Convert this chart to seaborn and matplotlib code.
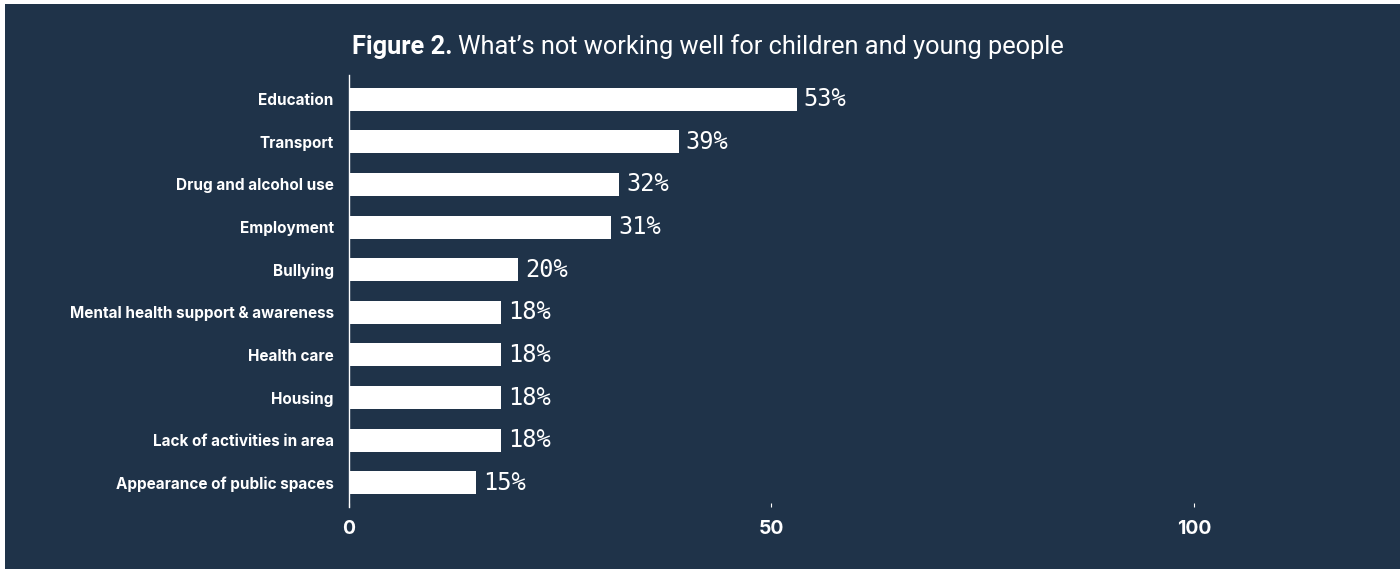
import matplotlib
matplotlib.use("Agg")
import matplotlib.pyplot as plt
import matplotlib.patches as mpatches
import seaborn as sns
import pandas as pd

# data
categories = [
    "Education",
    "Transport",
    "Drug and alcohol use",
    "Employment",
    "Bullying",
    "Mental health support & awareness",
    "Health care",
    "Housing",
    "Lack of activities in area",
    "Appearance of public spaces",
]
percent = [53, 39, 32, 31, 20, 18, 18, 18, 18, 15]
x_ticks = [0, 50, 100]

BG = "#1f3349"
FG = "white"

sns.set_theme(style="white")
plt.rcParams["font.family"] = ["Inter", "DejaVu Sans"]

df = pd.DataFrame({"category": categories, "percent": percent})

W, H = 1400, 569
fig = plt.figure(figsize=(W / 100, H / 100), dpi=100, facecolor="white")
# navy panel, leaving a thin white strip on the top and left edges
fig.patches.append(
    mpatches.Rectangle((5 / W, 0), 1 - 5 / W, 1 - 4 / H, transform=fig.transFigure,
                       facecolor=BG, edgecolor="none", zorder=-10)
)

ax = fig.add_axes([349 / W, (H - 507) / H, (1388 - 349) / W, (507 - 75) / H])
ax.set_facecolor(BG)
ax.set_zorder(2)

sns.barplot(data=df, x="percent", y="category", orient="h", color=FG,
            saturation=1, width=0.54, edgecolor="none", ax=ax)

ax.set_xlim(0, (1388 - 349) / 8.45)
ax.set_ylim(9.57, -0.57)
ax.set_xticks(x_ticks)
ax.set_xlabel("")
ax.set_ylabel("")

for s in ["top", "right", "bottom"]:
    ax.spines[s].set_visible(False)
ax.spines["left"].set_color(FG)
ax.spines["left"].set_linewidth(1)

ax.tick_params(axis="x", bottom=True, colors=FG, direction="in", length=3, width=0.8,
               pad=9, labelsize=14)
ax.tick_params(axis="y", left=False, length=0, pad=11, labelsize=11, labelcolor=FG)
for lbl in ax.get_xticklabels():
    lbl.set_fontweight("bold")
for lbl in ax.get_yticklabels():
    lbl.set_fontweight("bold")

for c in ax.containers:
    ax.bar_label(c, labels=[f"{v}%" for v in percent], padding=5, color=FG,
                 fontsize=17, family="DejaVu Sans Mono")

# title: bold "Figure 2." followed by regular text
t1 = fig.text(352 / W, 1 - 47 / H, "Figure 2.", color=FG, fontsize=18.3,
              fontweight="bold", va="center", ha="left", family="Roboto")
fig.canvas.draw()
bb = t1.get_window_extent()
fig.text((bb.x1 + 5) / W, 1 - 47 / H, "What\u2019s not working well for children and young people",
         color=FG, fontsize=18.3, va="center", ha="left", family="Roboto")

fig.savefig("out.png", dpi=100, facecolor=fig.get_facecolor())
